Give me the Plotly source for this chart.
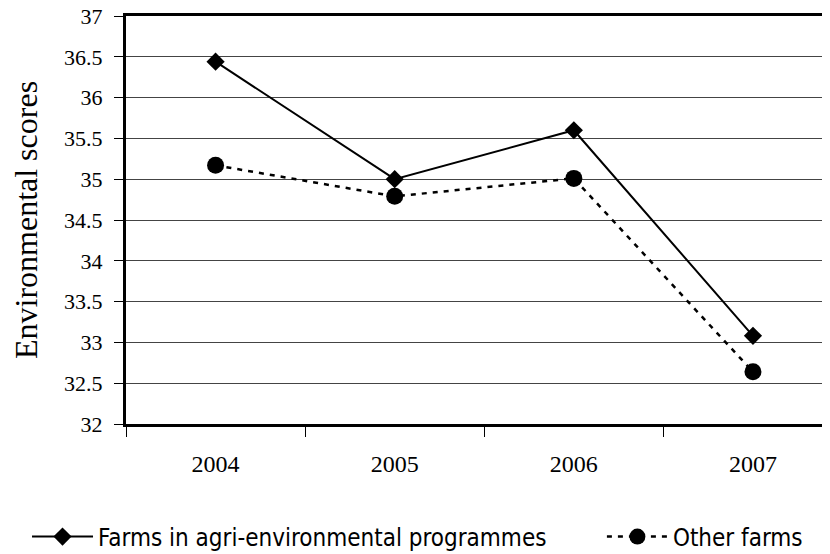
import plotly.graph_objects as go

years = ["2004", "2005", "2006", "2007"]
agri_env = [36.44, 35.0, 35.6, 33.08]
other_farms = [35.17, 34.79, 35.01, 32.64]
y_ticks = [32, 32.5, 33, 33.5, 34, 34.5, 35, 35.5, 36, 36.5, 37]

serif = "Liberation Serif"
narrow = "DejaVu Sans Condensed"

fig = go.Figure()
fig.add_trace(go.Scatter(
    x=years, y=agri_env, mode="lines+markers",
    name="Farms in agri-environmental programmes",
    line=dict(color="black", width=2),
    marker=dict(symbol="diamond", size=14, color="black"),
    legend="legend",
))
fig.add_trace(go.Scatter(
    x=years, y=other_farms, mode="lines+markers",
    name="Other farms",
    line=dict(color="black", width=2.5, dash="5px,6px"),
    marker=dict(symbol="circle", size=17, color="black"),
    legend="legend2",
))

legend_common = dict(orientation="h", xanchor="left", y=-0.277, yanchor="middle",
                     font=dict(family=narrow, size=24, color="black"),
                     itemwidth=61, borderwidth=0, bgcolor="rgba(0,0,0,0)")

fig.update_layout(
    width=822, height=546,
    margin=dict(l=118, r=0, t=8, b=130, autoexpand=False),
    paper_bgcolor="white", plot_bgcolor="white",
    showlegend=True,
    legend=dict(x=-0.1406, **legend_common),
    legend2=dict(x=0.676, **legend_common),
    xaxis=dict(
        type="category", range=[-0.5, 3.43],
        tickson="boundaries", ticks="outside", ticklen=10, tickcolor="black", tickwidth=1,
        showline=True, linecolor="black", linewidth=3, mirror=True,
        showgrid=False, automargin=False,
        tickfont=dict(family=serif, size=24, color="black"),
        ticklabelstandoff=16,
    ),
    yaxis=dict(
        range=[32, 37], tickvals=y_ticks,
        ticks="outside", ticklen=9, tickcolor="black", tickwidth=1,
        showline=True, linecolor="black", linewidth=3,
        showgrid=True, gridcolor="#444444", gridwidth=1.3,
        zeroline=False,
        tickfont=dict(family=serif, size=22, color="black"),
        ticklabelstandoff=7, ticklabeloverflow="allow",
        automargin=False,
        title=dict(text="Environmental scores", font=dict(family=serif, size=32, color="black"), standoff=18),
    ),
)

fig.write_html("out.html")
